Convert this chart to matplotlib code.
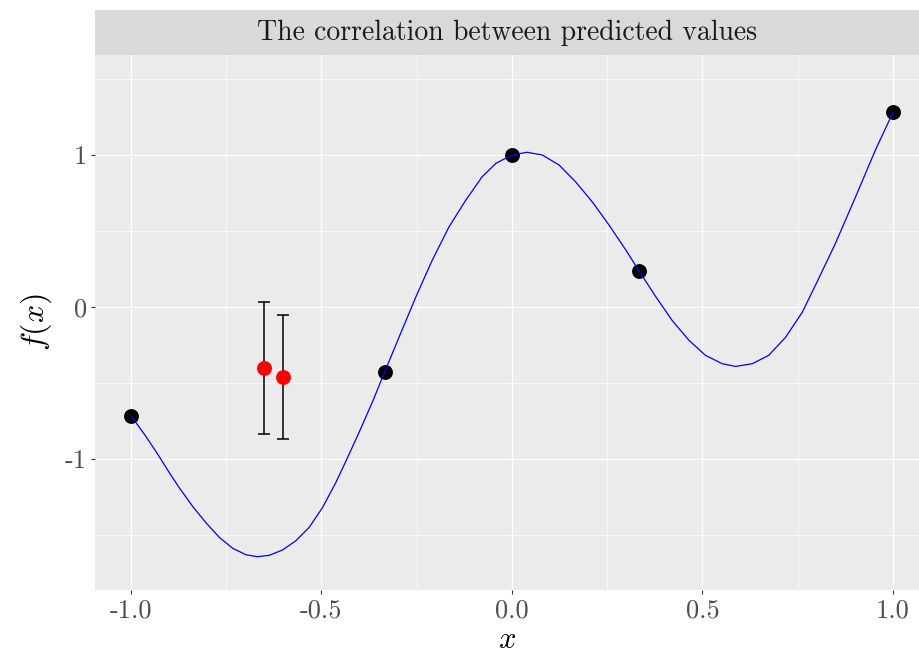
import matplotlib
matplotlib.use("Agg")
import matplotlib.pyplot as plt
from matplotlib.ticker import FixedLocator

# -------------------------
# Data
# -------------------------

# observed design points
obs_x = [-1.0, -1 / 3, 0.0, 1 / 3, 1.0]
obs_y = [-0.714, -0.43, 1.0, 0.24, 1.28]

# predicted mean curve (sampled along x)
curve_x = [-1.000, -0.965, -0.930, -0.900, -0.873, -0.838, -0.803, -0.768,
           -0.733, -0.698, -0.668, -0.637, -0.602, -0.567, -0.532, -0.497,
           -0.462, -0.432, -0.401, -0.366, -0.334, -0.296, -0.252, -0.209,
           -0.165, -0.121, -0.078, -0.042, 0.000, 0.040, 0.080, 0.124,
           0.167, 0.211, 0.255, 0.299, 0.333, 0.377, 0.421, 0.465,
           0.508, 0.552, 0.587, 0.631, 0.674, 0.718, 0.762, 0.797,
           0.849, 0.902, 0.954, 1.000]
curve_y = [-0.714, -0.835, -0.966, -1.086, -1.189, -1.311, -1.419, -1.515,
           -1.587, -1.630, -1.643, -1.634, -1.599, -1.538, -1.450, -1.320,
           -1.155, -0.995, -0.825, -0.625, -0.428, -0.198, 0.066, 0.308,
           0.527, 0.703, 0.857, 0.945, 1.000, 1.018, 1.000, 0.934,
           0.824, 0.692, 0.539, 0.375, 0.240, 0.070, -0.090, -0.220,
           -0.318, -0.373, -0.391, -0.373, -0.318, -0.200, -0.035, 0.145,
           0.418, 0.725, 1.033, 1.280]

# two predictions with their intervals
pred_x = [-0.65, -0.60]
pred_y = [-0.40, -0.461]
pred_err = [0.434, 0.407]

x_ticks = [-1.0, -0.5, 0.0, 0.5, 1.0]
x_labels = ["-1.0", "-0.5", "0.0", "0.5", "1.0"]
y_ticks = [-1, 0, 1]
y_labels = ["-1", "0", "1"]

title = "The correlation between predicted values"

# -------------------------
# Style
# -------------------------

plt.rcParams["font.family"] = ["cmr10", "DejaVu Serif"]
plt.rcParams["mathtext.fontset"] = "cm"
plt.rcParams["axes.unicode_minus"] = False

fig = plt.figure(figsize=(9.2, 6.55), dpi=100)
W, H = 920, 655
left, right, top, bottom = 95, 920, 55, 590

ax = fig.add_axes([left / W, 1 - bottom / H, (right - left) / W, (bottom - top) / H])
ax.set_facecolor("#EBEBEB")
for s in ax.spines.values():
    s.set_visible(False)

ax.scatter(obs_x, obs_y, s=115, color="black", zorder=3, linewidths=0)
ax.plot(curve_x, curve_y, color="blue", lw=0.9, zorder=4,
        solid_joinstyle="round", solid_capstyle="round")
ax.errorbar(pred_x, pred_y, yerr=pred_err, fmt="none", ecolor="black",
            elinewidth=1.1, capsize=4, capthick=1.1, zorder=3)
ax.scatter(pred_x, pred_y, s=115, color="red", zorder=5, linewidths=0)

ax.set_xlim(-1.094, 1.071)
ax.set_ylim(-1.862, 1.658)

ax.set_xticks(x_ticks)
ax.set_xticklabels(x_labels)
ax.set_yticks(y_ticks)
ax.set_yticklabels(y_labels)
ax.xaxis.set_minor_locator(FixedLocator([-0.75, -0.25, 0.25, 0.75]))
ax.yaxis.set_minor_locator(FixedLocator([-1.5, -0.5, 0.5, 1.5]))

ax.grid(which="major", color="white", lw=1.0)
ax.grid(which="minor", color="white", lw=0.5)
ax.set_axisbelow(True)
ax.tick_params(which="major", length=3, width=0.8, color="#333333",
               labelcolor="#4D4D4D", labelsize=19, pad=3)
ax.tick_params(which="minor", length=0)

ax.set_xlabel("$x$", fontsize=22, labelpad=3)
ax.set_ylabel("$f(x)$", fontsize=23, labelpad=8)

# facet-style strip holding the title
strip = fig.add_axes([left / W, 1 - top / H, (right - left) / W, 45 / H])
strip.set_facecolor("#D9D9D9")
strip.set_xticks([])
strip.set_yticks([])
for s in strip.spines.values():
    s.set_visible(False)
strip.text(0.5, 0.5, title, ha="center", va="center", fontsize=20,
           color="#1A1A1A", transform=strip.transAxes)

fig.savefig("out.png", dpi=100)
